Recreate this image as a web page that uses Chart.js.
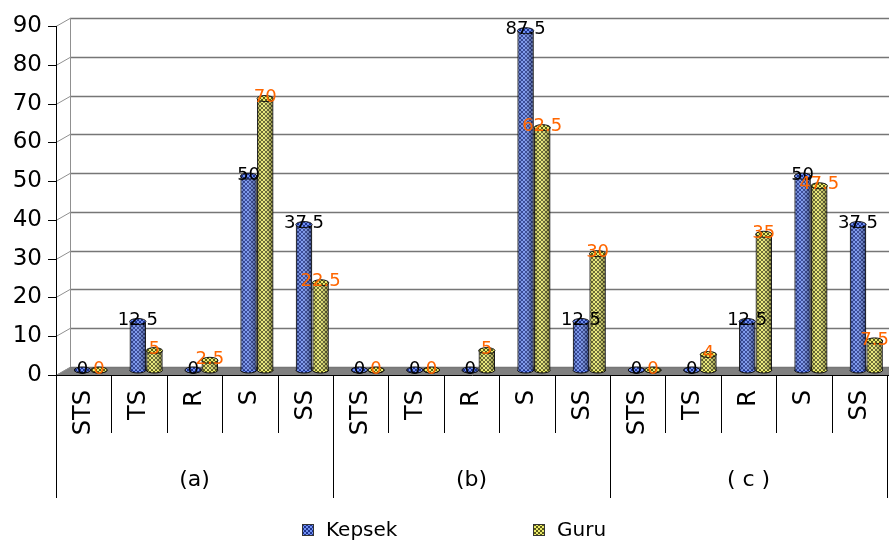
<!DOCTYPE html>
<html>
<head>
<meta charset="utf-8">
<script src="https://cdn.jsdelivr.net/npm/chart.js@4.4.1/dist/chart.umd.min.js"></script>
<style>
html, body { margin: 0; padding: 0; background: #fff; }
#wrap { width: 889px; height: 542px; }
</style>
</head>
<body>
<div id="wrap"><canvas id="barChart"></canvas></div>
<script>
var categories = ['STS', 'TS', 'R', 'S', 'SS'];
var groups = ['(a)', '(b)', '( c )'];
var kepsek = [0, 12.5, 0, 50, 37.5,  0, 0, 0, 87.5, 12.5,  0, 0, 12.5, 50, 37.5];
var guru = [0, 5, 2.5, 70, 22.5,  0, 0, 5, 62.5, 30,  0, 4, 35, 47.5, 7.5];
var yMin = 0, yMax = 90, yStep = 10;

var labels = [];
groups.forEach(function () {
  categories.forEach(function (c) { labels.push(c); });
});

var FONT = "'DejaVu Sans', sans-serif";
var DX = 14, DY = 8;   // depth of the fake 3D wall

function checker(light, dark) {
  var c = document.createElement('canvas');
  c.width = 4; c.height = 4;
  var g = c.getContext('2d');
  g.fillStyle = dark; g.fillRect(0, 0, 4, 4);
  g.fillStyle = light; g.fillRect(0, 0, 2, 2); g.fillRect(2, 2, 2, 2);
  return g.createPattern(c, 'repeat');
}

var bluePat = checker('#7090f0', '#1e338e');
var yellowPat = checker('#ecec6c', '#5a5a1a');
var labelColors = ['#000000', '#ff6600'];

var wallPlugin = {
  id: 'wall',
  beforeDatasetsDraw: function (chart) {
    var ctx = chart.ctx, a = chart.chartArea, ys = chart.scales.y;
    ctx.save();
    // floor
    ctx.fillStyle = '#808080';
    ctx.beginPath();
    ctx.moveTo(a.left, a.bottom + DY);
    ctx.lineTo(a.left + DX, a.bottom);
    ctx.lineTo(chart.width, a.bottom);
    ctx.lineTo(chart.width, a.bottom + DY);
    ctx.closePath();
    ctx.fill();
    // back grid lines, diagonals and tick marks
    ys.ticks.forEach(function (t) {
      var y = Math.round(ys.getPixelForValue(t.value)) + 0.5;
      ctx.strokeStyle = '#767676'; ctx.lineWidth = 1.5;
      ctx.beginPath(); ctx.moveTo(a.left + DX, y); ctx.lineTo(chart.width, y); ctx.stroke();
      ctx.strokeStyle = '#909090'; ctx.lineWidth = 1;
      ctx.beginPath(); ctx.moveTo(a.left, y + DY); ctx.lineTo(a.left + DX, y); ctx.stroke();
      ctx.strokeStyle = '#000';
      ctx.beginPath(); ctx.moveTo(a.left - 8, y + DY); ctx.lineTo(a.left, y + DY); ctx.stroke();
    });
    ctx.strokeStyle = '#909090';
    ctx.beginPath(); ctx.moveTo(a.left + DX + 0.5, a.top); ctx.lineTo(a.left + DX + 0.5, a.bottom); ctx.stroke();
    ctx.strokeStyle = '#000';
    ctx.beginPath(); ctx.moveTo(a.left + 0.5, a.top + DY); ctx.lineTo(a.left + 0.5, a.bottom + DY); ctx.stroke();
    ctx.beginPath(); ctx.moveTo(a.left, a.bottom + DY + 0.5); ctx.lineTo(chart.width, a.bottom + DY + 0.5); ctx.stroke();
    ctx.restore();
    ctx.save();
    ctx.translate(DX / 2, 3);
  },
  afterDatasetsDraw: function (chart) {
    var ctx = chart.ctx;
    var pats = [bluePat, yellowPat];
    chart.data.datasets.forEach(function (ds, di) {
      chart.getDatasetMeta(di).data.forEach(function (el) {
        var p = el.getProps(['x', 'y', 'base', 'width'], true);
        var l = p.x - p.width / 2;
        if (p.base - p.y > 0) {
          var gr = ctx.createLinearGradient(l, 0, l + p.width, 0);
          gr.addColorStop(0, 'rgba(0,0,0,0.3)');
          gr.addColorStop(0.35, 'rgba(255,255,255,0.12)');
          gr.addColorStop(1, 'rgba(0,0,0,0.45)');
          ctx.fillStyle = gr;
          ctx.fillRect(l, p.y, p.width, p.base - p.y);
        }
        ctx.lineWidth = 1;
        ctx.strokeStyle = '#111';
        ctx.fillStyle = pats[di];
        ctx.beginPath();
        ctx.ellipse(p.x, p.base, p.width / 2, 3, 0, 0, Math.PI);
        ctx.fill(); ctx.stroke();
        ctx.beginPath();
        ctx.ellipse(p.x, p.y, p.width / 2, 3, 0, 0, Math.PI * 2);
        ctx.fill(); ctx.stroke();
      });
    });
    // value labels
    ctx.font = '18px ' + FONT;
    ctx.textAlign = 'center';
    ctx.textBaseline = 'middle';
    chart.data.datasets.forEach(function (ds, di) {
      ctx.fillStyle = labelColors[di];
      chart.getDatasetMeta(di).data.forEach(function (el, i) {
        var p = el.getProps(['x', 'y'], true);
        ctx.fillText(String(ds.data[i]), p.x, p.y - 1);
      });
    });
    ctx.restore();
  },
  afterDraw: function (chart) {
    var ctx = chart.ctx, a = chart.chartArea, xs = chart.scales.x;
    var n = labels.length;
    var step = xs.getPixelForValue(1) - xs.getPixelForValue(0);
    var y0 = a.bottom + DY;
    ctx.save();
    ctx.strokeStyle = '#000';
    ctx.lineWidth = 1;
    for (var i = 0; i <= n; i++) {
      var x = Math.round(xs.getPixelForValue(0) - step / 2 + i * step) + 0.5;
      var isGroup = i % categories.length === 0;
      ctx.beginPath();
      ctx.moveTo(x, y0);
      ctx.lineTo(x, y0 + (isGroup ? 123 : 58));
      ctx.stroke();
    }
    ctx.fillStyle = '#000';
    ctx.font = '22px ' + FONT;
    ctx.textAlign = 'center';
    ctx.textBaseline = 'middle';
    groups.forEach(function (g, gi) {
      var first = gi * categories.length, last = first + categories.length - 1;
      var cx = (xs.getPixelForValue(first) + xs.getPixelForValue(last)) / 2;
      ctx.fillText(g, cx, y0 + 105);
    });
    // legend
    var pats = [bluePat, yellowPat];
    var lx = [302, 533];
    ctx.font = '20px ' + FONT;
    ctx.textAlign = 'left';
    chart.data.datasets.forEach(function (ds, di) {
      ctx.fillStyle = pats[di];
      ctx.fillRect(lx[di], 524, 12, 12);
      ctx.strokeStyle = '#333';
      ctx.strokeRect(lx[di] + 0.5, 524.5, 11, 11);
      ctx.fillStyle = '#000';
      ctx.fillText(ds.label, lx[di] + 24, 531);
    });
    ctx.restore();
  }
};

new Chart(document.getElementById('barChart'), {
  type: 'bar',
  data: {
    labels: labels,
    datasets: [{
      label: 'Kepsek',
      data: kepsek,
      backgroundColor: bluePat,
      borderColor: '#111',
      borderWidth: 1
    }, {
      label: 'Guru',
      data: guru,
      backgroundColor: yellowPat,
      borderColor: '#111',
      borderWidth: 1
    }]
  },
  options: {
    responsive: true,
    maintainAspectRatio: false,
    animation: false,
    datasets: {
      bar: { categoryPercentage: 0.6, barPercentage: 0.98 }
    },
    layout: { padding: { top: 18, left: 14, right: 2, bottom: 107 } },
    plugins: {
      legend: { display: false },
      tooltip: { enabled: false }
    },
    scales: {
      x: {
        grid: { display: false, drawTicks: false },
        border: { display: false },
        ticks: {
          autoSkip: false,
          minRotation: 90,
          maxRotation: 90,
          padding: 23,
          color: '#000',
          font: { family: FONT, size: 24 }
        },
        afterFit: function (scale) {
          scale.height = 68;
          scale.paddingLeft = 0;
          scale.paddingRight = 0;
        }
      },
      y: {
        min: yMin,
        max: yMax,
        grid: { display: false, drawTicks: false },
        border: { display: false },
        ticks: {
          stepSize: yStep,
          padding: 14,
          labelOffset: DY,
          color: '#000',
          font: { family: FONT, size: 23 }
        },
        afterFit: function (scale) {
          scale.width = 42;
          scale.paddingTop = 0;
          scale.paddingBottom = 0;
        }
      }
    }
  },
  plugins: [wallPlugin]
});
</script>
</body>
</html>
